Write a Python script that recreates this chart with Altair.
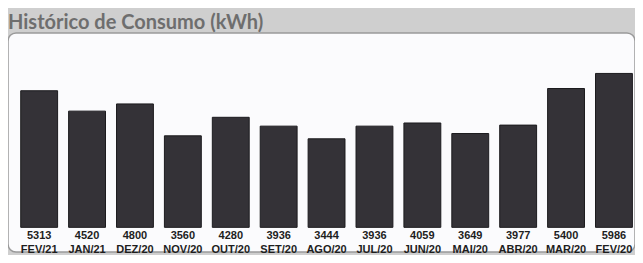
import altair as alt
import pandas as pd

months = ["FEV/21", "JAN/21", "DEZ/20", "NOV/20", "OUT/20", "SET/20", "AGO/20",
          "JUL/20", "JUN/20", "MAI/20", "ABR/20", "MAR/20", "FEV/20"]
values = [5313, 4520, 4800, 3560, 4280, 3936, 3444, 3936, 4059, 3649, 3977, 5400, 5986]

df = pd.DataFrame({"mes": months, "kwh": values})
df["vpos"] = -340
df["mpos"] = -880

ydom = [-959, 7559]
xscale = alt.Scale(paddingInner=0.23, paddingOuter=0.16, align=0.83)
xenc = alt.X("mes:N", sort=months, scale=xscale, axis=None)

bars = alt.Chart(df).mark_bar(color="#343237", stroke="#1c1b1e", strokeWidth=1).encode(
    x=xenc,
    y=alt.Y("kwh:Q", scale=alt.Scale(domain=ydom, nice=False, zero=False), axis=None),
    y2=alt.datum(0),
)

vals = alt.Chart(df).mark_text(
    font="Liberation Sans Narrow, Liberation Sans, Arial", fontSize=11, fontWeight="bold",
    color="#1e1e1e", baseline="middle"
).encode(x=xenc, y=alt.Y("vpos:Q"), text=alt.Text("kwh:Q", format="d"))

mons = alt.Chart(df).mark_text(
    font="Liberation Sans Narrow, Liberation Sans, Arial", fontSize=11, fontWeight="bold",
    color="#1e1e1e", baseline="middle"
).encode(x=xenc, y=alt.Y("mpos:Q"), text="mes:N")

chart = alt.layer(bars, vals, mons).properties(
    width=627, height=247,
    autosize=alt.AutoSizeParams(type="fit", contains="padding"),
    padding={"top": 5, "left": 0, "right": 0, "bottom": 0},
    background="#cfcfcf",
    title=alt.TitleParams("Histórico de Consumo (kWh)", anchor="start", fontSize=20,
                          font="Lato", fontWeight="bold", color="#6e6e6e",
                          offset=0),
).configure_view(fill="#fbfbfd", stroke="#9a9a9a", strokeWidth=1.5, cornerRadius=8)

chart.save("out.html", embed_options={"renderer": "svg", "actions": False})
